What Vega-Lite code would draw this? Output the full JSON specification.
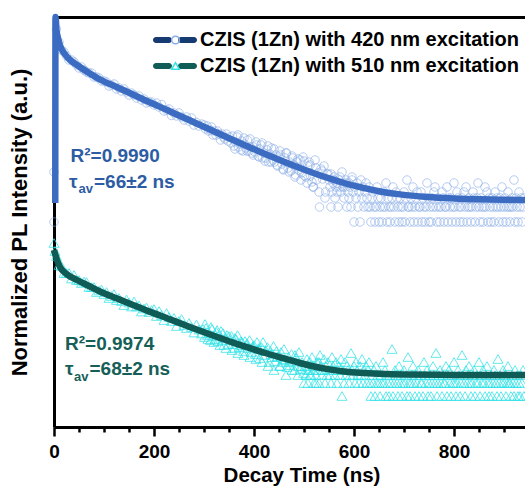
{
"$schema":"https://vega.github.io/schema/vega-lite/v6.json",
"width":471,"height":410,
"autosize":"none",
"padding":{"left":54,"top":17,"right":0,"bottom":66},
"background":"white",
"config":{
"view":{"stroke":null},
"font":"Liberation Sans",
"axis":{"domainColor":"black","domainWidth":3,"tickColor":"black","labelColor":"black","titleColor":"black","labelFont":"Liberation Sans","titleFont":"Liberation Sans","labelFontWeight":"bold","titleFontWeight":"bold","grid":false},
"axisY":{"labels":false,"ticks":false,"titleFontSize":22,"titlePadding":23}
},
"datasets":{
"fit":[
{"t":2.5,"v":224,"s":"CZIS (1Zn) with 420 nm excitation"},{"t":3,"v":410,"s":"CZIS (1Zn) with 420 nm excitation"},{"t":5,"v":397,"s":"CZIS (1Zn) with 420 nm excitation"},{"t":8,"v":389,"s":"CZIS (1Zn) with 420 nm excitation"},{"t":10,"v":385,"s":"CZIS (1Zn) with 420 nm excitation"},{"t":15,"v":378,"s":"CZIS (1Zn) with 420 nm excitation"},{"t":20,"v":374,"s":"CZIS (1Zn) with 420 nm excitation"},{"t":30,"v":368,"s":"CZIS (1Zn) with 420 nm excitation"},{"t":46,"v":362,"s":"CZIS (1Zn) with 420 nm excitation"},{"t":70,"v":354,"s":"CZIS (1Zn) with 420 nm excitation"},{"t":92,"v":347.5,"s":"CZIS (1Zn) with 420 nm excitation"},{"t":125,"v":340,"s":"CZIS (1Zn) with 420 nm excitation"},{"t":158,"v":332.5,"s":"CZIS (1Zn) with 420 nm excitation"},{"t":190,"v":325,"s":"CZIS (1Zn) with 420 nm excitation"},{"t":226,"v":317,"s":"CZIS (1Zn) with 420 nm excitation"},{"t":260,"v":309.2,"s":"CZIS (1Zn) with 420 nm excitation"},{"t":292,"v":302,"s":"CZIS (1Zn) with 420 nm excitation"},{"t":325,"v":294.5,"s":"CZIS (1Zn) with 420 nm excitation"},{"t":358,"v":287,"s":"CZIS (1Zn) with 420 nm excitation"},{"t":392,"v":279.5,"s":"CZIS (1Zn) with 420 nm excitation"},{"t":426,"v":272.3,"s":"CZIS (1Zn) with 420 nm excitation"},{"t":460,"v":265.3,"s":"CZIS (1Zn) with 420 nm excitation"},{"t":492,"v":259,"s":"CZIS (1Zn) with 420 nm excitation"},{"t":520,"v":253.8,"s":"CZIS (1Zn) with 420 nm excitation"},{"t":552,"v":248.3,"s":"CZIS (1Zn) with 420 nm excitation"},{"t":580,"v":244,"s":"CZIS (1Zn) with 420 nm excitation"},{"t":612,"v":239.8,"s":"CZIS (1Zn) with 420 nm excitation"},{"t":650,"v":235.8,"s":"CZIS (1Zn) with 420 nm excitation"},{"t":692,"v":232.6,"s":"CZIS (1Zn) with 420 nm excitation"},{"t":746,"v":230,"s":"CZIS (1Zn) with 420 nm excitation"},{"t":800,"v":228.6,"s":"CZIS (1Zn) with 420 nm excitation"},{"t":852,"v":227.8,"s":"CZIS (1Zn) with 420 nm excitation"},{"t":900,"v":227.3,"s":"CZIS (1Zn) with 420 nm excitation"},{"t":942,"v":227,"s":"CZIS (1Zn) with 420 nm excitation"},
{"t":0,"v":177,"s":"CZIS (1Zn) with 510 nm excitation"},{"t":6,"v":167,"s":"CZIS (1Zn) with 510 nm excitation"},{"t":12,"v":160,"s":"CZIS (1Zn) with 510 nm excitation"},{"t":25,"v":153,"s":"CZIS (1Zn) with 510 nm excitation"},{"t":46,"v":147,"s":"CZIS (1Zn) with 510 nm excitation"},{"t":70,"v":141,"s":"CZIS (1Zn) with 510 nm excitation"},{"t":92,"v":135.5,"s":"CZIS (1Zn) with 510 nm excitation"},{"t":125,"v":128.7,"s":"CZIS (1Zn) with 510 nm excitation"},{"t":158,"v":122,"s":"CZIS (1Zn) with 510 nm excitation"},{"t":190,"v":115.6,"s":"CZIS (1Zn) with 510 nm excitation"},{"t":226,"v":108.8,"s":"CZIS (1Zn) with 510 nm excitation"},{"t":260,"v":102.3,"s":"CZIS (1Zn) with 510 nm excitation"},{"t":292,"v":96.2,"s":"CZIS (1Zn) with 510 nm excitation"},{"t":325,"v":90.2,"s":"CZIS (1Zn) with 510 nm excitation"},{"t":358,"v":84.4,"s":"CZIS (1Zn) with 510 nm excitation"},{"t":392,"v":78.8,"s":"CZIS (1Zn) with 510 nm excitation"},{"t":426,"v":73.5,"s":"CZIS (1Zn) with 510 nm excitation"},{"t":460,"v":68.6,"s":"CZIS (1Zn) with 510 nm excitation"},{"t":492,"v":64,"s":"CZIS (1Zn) with 510 nm excitation"},{"t":520,"v":60.5,"s":"CZIS (1Zn) with 510 nm excitation"},{"t":550,"v":57.6,"s":"CZIS (1Zn) with 510 nm excitation"},{"t":580,"v":55.6,"s":"CZIS (1Zn) with 510 nm excitation"},{"t":612,"v":54.2,"s":"CZIS (1Zn) with 510 nm excitation"},{"t":650,"v":53.2,"s":"CZIS (1Zn) with 510 nm excitation"},{"t":700,"v":52.5,"s":"CZIS (1Zn) with 510 nm excitation"},{"t":800,"v":52.1,"s":"CZIS (1Zn) with 510 nm excitation"},{"t":942,"v":52,"s":"CZIS (1Zn) with 510 nm excitation"}
],
"txt":[
{"t":33,"v":265.5,"label":"R²=0.9990","g":"b","k":"m"},
{"t":30,"v":239.5,"label":"τ","g":"b","k":"m"},
{"t":49,"v":234.5,"label":"av","g":"b","k":"s"},
{"t":80,"v":239.5,"label":"=66±2 ns","g":"b","k":"m"},
{"t":22,"v":77,"label":"R²=0.9974","g":"c","k":"m"},
{"t":22,"v":52,"label":"τ","g":"c","k":"m"},
{"t":40,"v":46,"label":"av","g":"c","k":"s"},
{"t":71,"v":52,"label":"=68±2 ns","g":"c","k":"m"}
],
"pb":[
{"t":0,"v":255,"p":"b"},{"t":0,"v":205,"p":"b"},
{"t":5,"v":398,"p":"b"},{"t":10,"v":385,"p":"b"},{"t":15,"v":377,"p":"b"},{"t":20,"v":375,"p":"b"},{"t":25,"v":371,"p":"b"},{"t":30,"v":367,"p":"b"},{"t":35,"v":367,"p":"b"},{"t":40,"v":365,"p":"b"},{"t":45,"v":362,"p":"b"},{"t":50,"v":359,"p":"b"},{"t":55,"v":360,"p":"b"},{"t":60,"v":357,"p":"b"},{"t":65,"v":355,"p":"b"},{"t":70,"v":354,"p":"b"},{"t":75,"v":354,"p":"b"},{"t":80,"v":350,"p":"b"},{"t":85,"v":350,"p":"b"},{"t":90,"v":349,"p":"b"},{"t":95,"v":346,"p":"b"},{"t":100,"v":346,"p":"b"},
{"t":105,"v":345,"p":"b"},{"t":110,"v":341,"p":"b"},{"t":115,"v":342,"p":"b"},{"t":120,"v":343,"p":"b"},{"t":125,"v":338,"p":"b"},{"t":130,"v":339,"p":"b"},{"t":135,"v":336,"p":"b"},{"t":140,"v":338,"p":"b"},{"t":145,"v":335,"p":"b"},{"t":150,"v":332,"p":"b"},{"t":155,"v":334,"p":"b"},{"t":160,"v":332,"p":"b"},{"t":165,"v":329,"p":"b"},{"t":170,"v":331,"p":"b"},{"t":175,"v":327,"p":"b"},{"t":180,"v":328,"p":"b"},{"t":185,"v":324,"p":"b"},{"t":190,"v":325,"p":"b"},{"t":195,"v":325,"p":"b"},{"t":200,"v":322,"p":"b"},
{"t":205,"v":324,"p":"b"},{"t":210,"v":320,"p":"b"},{"t":215,"v":322.5,"p":"b"},{"t":220,"v":316,"p":"b"},{"t":225,"v":317,"p":"b"},{"t":230,"v":318,"p":"b"},{"t":235,"v":311.5,"p":"b"},{"t":240,"v":314,"p":"b"},{"t":245,"v":311,"p":"b"},{"t":250,"v":314,"p":"b"},{"t":255,"v":310,"p":"b"},{"t":260,"v":307,"p":"b"},{"t":265,"v":310,"p":"b"},{"t":270,"v":306,"p":"b"},{"t":275,"v":309,"p":"b"},{"t":280,"v":302,"p":"b"},{"t":285,"v":304.5,"p":"b"},{"t":290,"v":301,"p":"b"},{"t":295,"v":303,"p":"b"},
{"t":300,"v":302,"p":"b"},{"t":303,"v":298,"p":"b"},{"t":306,"v":301,"p":"b"},{"t":309,"v":296,"p":"b"},{"t":312,"v":297,"p":"b"},{"t":315,"v":300,"p":"b"},{"t":318,"v":292,"p":"b"},{"t":321,"v":296,"p":"b"},{"t":324,"v":292,"p":"b"},{"t":327,"v":296,"p":"b"},{"t":330,"v":293,"p":"b"},{"t":333,"v":287,"p":"b"},{"t":336,"v":293,"p":"b"},{"t":339,"v":290,"p":"b"},{"t":342,"v":288,"p":"b"},{"t":345,"v":293,"p":"b"},{"t":348,"v":286,"p":"b"},
{"t":351,"v":290,"p":"b"},{"t":354,"v":284,"p":"b"},{"t":357,"v":291,"p":"b"},{"t":360,"v":281,"p":"b"},{"t":363,"v":285,"p":"b"},{"t":366,"v":290,"p":"b"},{"t":369,"v":280,"p":"b"},{"t":372,"v":283,"p":"b"},{"t":375,"v":286,"p":"b"},{"t":378,"v":276,"p":"b"},{"t":381,"v":283,"p":"b"},{"t":384,"v":279,"p":"b"},{"t":387,"v":287,"p":"b"},{"t":390,"v":276,"p":"b"},{"t":393,"v":280,"p":"b"},{"t":396,"v":274,"p":"b"},{"t":399,"v":280,"p":"b"},
{"t":402,"v":275,"p":"b"},{"t":405,"v":282,"p":"b"},{"t":408,"v":271,"p":"b"},{"t":411,"v":278,"p":"b"},{"t":414,"v":282,"p":"b"},{"t":417,"v":269,"p":"b"},{"t":420,"v":274,"p":"b"},{"t":423,"v":269,"p":"b"},{"t":426,"v":277,"p":"b"},{"t":429,"v":265,"p":"b"},{"t":432,"v":273,"p":"b"},{"t":435,"v":279,"p":"b"},{"t":438,"v":267,"p":"b"},{"t":441,"v":265,"p":"b"},{"t":444,"v":272,"p":"b"},{"t":447,"v":261,"p":"b"},{"t":450,"v":270,"p":"b"},
{"t":453,"v":272,"p":"b"},{"t":456,"v":263,"p":"b"},{"t":459,"v":257,"p":"b"},{"t":462,"v":269,"p":"b"},{"t":465,"v":274,"p":"b"},{"t":468,"v":259,"p":"b"},{"t":471,"v":265,"p":"b"},{"t":474,"v":256,"p":"b"},{"t":477,"v":269,"p":"b"},{"t":480,"v":262,"p":"b"},{"t":483,"v":252,"p":"b"},{"t":486,"v":265,"p":"b"},{"t":489,"v":257,"p":"b"},{"t":492,"v":267,"p":"b"},{"t":495,"v":254,"p":"b"},{"t":498,"v":270,"p":"b"},{"t":501,"v":251,"p":"b"},
{"t":504,"v":250,"p":"b"},{"t":507,"v":261,"p":"b"},{"t":510,"v":265,"p":"b"},{"t":513,"v":251,"p":"b"},{"t":516,"v":245,"p":"b"},{"t":519,"v":240,"p":"b"},{"t":522,"v":267,"p":"b"},{"t":525,"v":247,"p":"b"},{"t":528,"v":254,"p":"b"},{"t":531,"v":220,"p":"b"},{"t":534,"v":258,"p":"b"},{"t":537,"v":248,"p":"b"},{"t":540,"v":261,"p":"b"},{"t":543,"v":235,"p":"b"},{"t":546,"v":253,"p":"b"},
{"t":362,"v":278,"p":"b"},{"t":368,"v":292,"p":"b"},{"t":374,"v":277,"p":"b"},{"t":380,"v":289,"p":"b"},{"t":386,"v":276,"p":"b"},{"t":392,"v":288,"p":"b"},{"t":398,"v":272,"p":"b"},{"t":404,"v":285,"p":"b"},{"t":410,"v":270,"p":"b"},{"t":416,"v":284,"p":"b"},{"t":422,"v":266,"p":"b"},{"t":428,"v":281,"p":"b"},{"t":434,"v":265,"p":"b"},{"t":440,"v":278,"p":"b"},{"t":446,"v":262,"p":"b"},{"t":452,"v":276,"p":"b"},{"t":458,"v":258,"p":"b"},{"t":464,"v":274,"p":"b"},{"t":470,"v":255,"p":"b"},{"t":476,"v":271,"p":"b"},{"t":482,"v":250,"p":"b"},{"t":488,"v":268,"p":"b"},{"t":494,"v":247,"p":"b"},{"t":500,"v":266,"p":"b"},{"t":506,"v":244,"p":"b"},{"t":512,"v":262,"p":"b"},{"t":518,"v":240,"p":"b"},{"t":524,"v":259,"p":"b"},{"t":530,"v":235,"p":"b"},{"t":536,"v":256,"p":"b"},{"t":542,"v":229,"p":"b"},{"t":548,"v":253,"p":"b"},{"t":554,"v":220,"p":"b"},{"t":560,"v":247,"p":"b"},{"t":566,"v":235,"p":"b"},{"t":572,"v":250,"p":"b"},{"t":578,"v":240,"p":"b"},{"t":584,"v":244,"p":"b"},{"t":590,"v":229,"p":"b"},{"t":596,"v":247,"p":"b"},
{"t":550,"v":247,"p":"b"},{"t":552,"v":240,"p":"b"},{"t":554,"v":253,"p":"b"},{"t":556,"v":235,"p":"b"},{"t":558,"v":244,"p":"b"},{"t":560,"v":250,"p":"b"},{"t":562,"v":229,"p":"b"},{"t":564,"v":240,"p":"b"},{"t":566,"v":244,"p":"b"},{"t":568,"v":220,"p":"b"},{"t":570,"v":247,"p":"b"},{"t":572,"v":240,"p":"b"},{"t":574,"v":235,"p":"b"},{"t":576,"v":255,"p":"b"},{"t":578,"v":244,"p":"b"},{"t":580,"v":229,"p":"b"},{"t":582,"v":240,"p":"b"},{"t":584,"v":247,"p":"b"},{"t":586,"v":220,"p":"b"},{"t":588,"v":235,"p":"b"},{"t":590,"v":244,"p":"b"},{"t":592,"v":240,"p":"b"},{"t":594,"v":220,"p":"b"},{"t":596,"v":250,"p":"b"},{"t":598,"v":235,"p":"b"},{"t":600,"v":205,"p":"b"},{"t":602,"v":240,"p":"b"},{"t":604,"v":229,"p":"b"},{"t":606,"v":244,"p":"b"},{"t":608,"v":220,"p":"b"},{"t":610,"v":235,"p":"b"},{"t":612,"v":205,"p":"b"},{"t":614,"v":247,"p":"b"},{"t":616,"v":229,"p":"b"},{"t":618,"v":240,"p":"b"},{"t":620,"v":220,"p":"b"},{"t":622,"v":235,"p":"b"},{"t":624,"v":244,"p":"b"},{"t":626,"v":229,"p":"b"},{"t":628,"v":220,"p":"b"},{"t":630,"v":240,"p":"b"},
{"t":632,"v":220,"p":"b"},{"t":634,"v":205,"p":"b"},{"t":636,"v":229,"p":"b"},{"t":638,"v":235,"p":"b"},{"t":640,"v":220,"p":"b"},{"t":642,"v":205,"p":"b"},{"t":644,"v":220,"p":"b"},{"t":646,"v":240,"p":"b"},{"t":648,"v":229,"p":"b"},{"t":650,"v":205,"p":"b"},
{"t":652,"v":220,"p":"b"},{"t":654,"v":229,"p":"b"},{"t":656,"v":205,"p":"b"},{"t":658,"v":220,"p":"b"},{"t":660,"v":235,"p":"b"},{"t":662,"v":220,"p":"b"},{"t":664,"v":244,"p":"b"},{"t":666,"v":205,"p":"b"},{"t":668,"v":229,"p":"b"},{"t":670,"v":220,"p":"b"},
{"t":672,"v":205,"p":"b"},{"t":674,"v":220,"p":"b"},{"t":676,"v":229,"p":"b"},{"t":678,"v":240,"p":"b"},{"t":680,"v":220,"p":"b"},{"t":682,"v":205,"p":"b"},{"t":684,"v":235,"p":"b"},{"t":686,"v":229,"p":"b"},{"t":688,"v":220,"p":"b"},{"t":690,"v":205,"p":"b"},
{"t":692,"v":229,"p":"b"},{"t":694,"v":220,"p":"b"},{"t":696,"v":205,"p":"b"},{"t":698,"v":220,"p":"b"},{"t":700,"v":235,"p":"b"},{"t":702,"v":205,"p":"b"},{"t":704,"v":229,"p":"b"},{"t":706,"v":247,"p":"b"},{"t":708,"v":220,"p":"b"},{"t":710,"v":220,"p":"b"},
{"t":712,"v":205,"p":"b"},{"t":714,"v":229,"p":"b"},{"t":716,"v":220,"p":"b"},{"t":718,"v":240,"p":"b"},{"t":720,"v":205,"p":"b"},{"t":722,"v":220,"p":"b"},{"t":724,"v":229,"p":"b"},{"t":726,"v":235,"p":"b"},{"t":728,"v":205,"p":"b"},{"t":730,"v":220,"p":"b"},
{"t":732,"v":220,"p":"b"},{"t":734,"v":235,"p":"b"},{"t":736,"v":205,"p":"b"},{"t":738,"v":229,"p":"b"},{"t":740,"v":220,"p":"b"},{"t":742,"v":205,"p":"b"},{"t":744,"v":220,"p":"b"},{"t":746,"v":244,"p":"b"},{"t":748,"v":229,"p":"b"},{"t":750,"v":205,"p":"b"},
{"t":752,"v":220,"p":"b"},{"t":754,"v":205,"p":"b"},{"t":756,"v":229,"p":"b"},{"t":758,"v":220,"p":"b"},{"t":760,"v":235,"p":"b"},{"t":762,"v":240,"p":"b"},{"t":764,"v":220,"p":"b"},{"t":766,"v":205,"p":"b"},{"t":768,"v":229,"p":"b"},{"t":770,"v":220,"p":"b"},
{"t":772,"v":205,"p":"b"},{"t":774,"v":220,"p":"b"},{"t":776,"v":235,"p":"b"},{"t":778,"v":229,"p":"b"},{"t":780,"v":205,"p":"b"},{"t":782,"v":220,"p":"b"},{"t":784,"v":220,"p":"b"},{"t":786,"v":240,"p":"b"},{"t":788,"v":205,"p":"b"},{"t":790,"v":229,"p":"b"},
{"t":792,"v":220,"p":"b"},{"t":794,"v":229,"p":"b"},{"t":796,"v":205,"p":"b"},{"t":798,"v":220,"p":"b"},{"t":800,"v":244,"p":"b"},{"t":802,"v":220,"p":"b"},{"t":804,"v":205,"p":"b"},{"t":806,"v":235,"p":"b"},{"t":808,"v":229,"p":"b"},{"t":810,"v":220,"p":"b"},
{"t":812,"v":205,"p":"b"},{"t":814,"v":220,"p":"b"},{"t":816,"v":229,"p":"b"},{"t":818,"v":205,"p":"b"},{"t":820,"v":235,"p":"b"},{"t":822,"v":220,"p":"b"},{"t":824,"v":240,"p":"b"},{"t":826,"v":205,"p":"b"},{"t":828,"v":220,"p":"b"},{"t":830,"v":229,"p":"b"},
{"t":832,"v":220,"p":"b"},{"t":834,"v":205,"p":"b"},{"t":836,"v":220,"p":"b"},{"t":838,"v":235,"p":"b"},{"t":840,"v":229,"p":"b"},{"t":842,"v":205,"p":"b"},{"t":844,"v":220,"p":"b"},{"t":846,"v":229,"p":"b"},{"t":848,"v":244,"p":"b"},{"t":850,"v":220,"p":"b"},
{"t":852,"v":205,"p":"b"},{"t":854,"v":229,"p":"b"},{"t":856,"v":220,"p":"b"},{"t":858,"v":205,"p":"b"},{"t":860,"v":220,"p":"b"},{"t":862,"v":240,"p":"b"},{"t":864,"v":220,"p":"b"},{"t":866,"v":235,"p":"b"},{"t":868,"v":205,"p":"b"},{"t":870,"v":229,"p":"b"},
{"t":872,"v":220,"p":"b"},{"t":874,"v":205,"p":"b"},{"t":876,"v":229,"p":"b"},{"t":878,"v":220,"p":"b"},{"t":880,"v":205,"p":"b"},{"t":882,"v":235,"p":"b"},{"t":884,"v":220,"p":"b"},{"t":886,"v":229,"p":"b"},{"t":888,"v":220,"p":"b"},{"t":890,"v":205,"p":"b"},
{"t":892,"v":229,"p":"b"},{"t":894,"v":220,"p":"b"},{"t":896,"v":240,"p":"b"},{"t":898,"v":205,"p":"b"},{"t":900,"v":220,"p":"b"},{"t":902,"v":229,"p":"b"},{"t":904,"v":205,"p":"b"},{"t":906,"v":220,"p":"b"},{"t":908,"v":235,"p":"b"},{"t":910,"v":220,"p":"b"},
{"t":912,"v":205,"p":"b"},{"t":914,"v":220,"p":"b"},{"t":916,"v":229,"p":"b"},{"t":918,"v":220,"p":"b"},{"t":920,"v":247,"p":"b"},{"t":922,"v":205,"p":"b"},{"t":924,"v":229,"p":"b"},{"t":926,"v":220,"p":"b"},{"t":928,"v":205,"p":"b"},{"t":930,"v":235,"p":"b"},
{"t":932,"v":220,"p":"b"},{"t":934,"v":229,"p":"b"},{"t":936,"v":205,"p":"b"},{"t":938,"v":220,"p":"b"},{"t":940,"v":229,"p":"b"}
],
"pc":[
{"t":0,"v":184,"p":"c"},{"t":2,"v":176,"p":"c"},
{"t":5,"v":171,"p":"c"},{"t":10,"v":162,"p":"c"},{"t":15,"v":161,"p":"c"},{"t":20,"v":154,"p":"c"},{"t":25,"v":154,"p":"c"},{"t":30,"v":154,"p":"c"},{"t":35,"v":148.5,"p":"c"},{"t":40,"v":152,"p":"c"},{"t":45,"v":147,"p":"c"},{"t":50,"v":147,"p":"c"},{"t":55,"v":144,"p":"c"},{"t":60,"v":145.5,"p":"c"},{"t":65,"v":145,"p":"c"},{"t":70,"v":140,"p":"c"},{"t":75,"v":140,"p":"c"},{"t":80,"v":140,"p":"c"},{"t":85,"v":135,"p":"c"},{"t":90,"v":136.5,"p":"c"},{"t":95,"v":137.5,"p":"c"},{"t":100,"v":133,"p":"c"},
{"t":105,"v":135,"p":"c"},{"t":110,"v":129,"p":"c"},{"t":115,"v":131,"p":"c"},{"t":120,"v":133,"p":"c"},{"t":125,"v":127,"p":"c"},{"t":130,"v":129,"p":"c"},{"t":135,"v":126,"p":"c"},{"t":140,"v":122,"p":"c"},{"t":145,"v":127.5,"p":"c"},{"t":150,"v":124.5,"p":"c"},{"t":155,"v":120.5,"p":"c"},{"t":160,"v":125.5,"p":"c"},{"t":165,"v":120.5,"p":"c"},{"t":170,"v":121.5,"p":"c"},{"t":175,"v":115.5,"p":"c"},{"t":180,"v":118.5,"p":"c"},{"t":185,"v":119.5,"p":"c"},{"t":190,"v":115,"p":"c"},{"t":195,"v":117,"p":"c"},{"t":200,"v":118,"p":"c"},
{"t":205,"v":111,"p":"c"},{"t":210,"v":116,"p":"c"},{"t":215,"v":112,"p":"c"},{"t":220,"v":107,"p":"c"},{"t":225,"v":114,"p":"c"},{"t":230,"v":110,"p":"c"},{"t":235,"v":106,"p":"c"},{"t":240,"v":109,"p":"c"},{"t":245,"v":101,"p":"c"},{"t":250,"v":106,"p":"c"},{"t":255,"v":108,"p":"c"},{"t":260,"v":102,"p":"c"},{"t":265,"v":99,"p":"c"},{"t":270,"v":104,"p":"c"},{"t":275,"v":100,"p":"c"},{"t":280,"v":94.5,"p":"c"},{"t":285,"v":102.5,"p":"c"},{"t":290,"v":97.5,"p":"c"},{"t":295,"v":93.5,"p":"c"},
{"t":298,"v":98,"p":"c"},{"t":301,"v":90,"p":"c"},{"t":304,"v":99,"p":"c"},{"t":307,"v":92,"p":"c"},{"t":310,"v":94,"p":"c"},{"t":313,"v":87,"p":"c"},{"t":316,"v":98,"p":"c"},{"t":319,"v":91,"p":"c"},{"t":322,"v":88,"p":"c"},{"t":325,"v":95,"p":"c"},{"t":328,"v":86,"p":"c"},{"t":331,"v":92,"p":"c"},{"t":334,"v":96,"p":"c"},{"t":337,"v":87,"p":"c"},{"t":340,"v":82,"p":"c"},{"t":343,"v":89,"p":"c"},{"t":346,"v":92,"p":"c"},{"t":349,"v":83,"p":"c"},{"t":352,"v":87,"p":"c"},{"t":355,"v":91,"p":"c"},{"t":358,"v":83,"p":"c"},{"t":361,"v":79,"p":"c"},{"t":364,"v":88,"p":"c"},{"t":367,"v":92,"p":"c"},{"t":370,"v":80,"p":"c"},{"t":373,"v":82,"p":"c"},{"t":376,"v":85,"p":"c"},{"t":379,"v":76,"p":"c"},{"t":382,"v":86,"p":"c"},{"t":385,"v":82,"p":"c"},{"t":388,"v":79,"p":"c"},{"t":391,"v":87,"p":"c"},{"t":394,"v":75,"p":"c"},{"t":397,"v":80,"p":"c"},{"t":400,"v":82,"p":"c"},
{"t":403,"v":73,"p":"c"},{"t":406,"v":85,"p":"c"},{"t":409,"v":79,"p":"c"},{"t":412,"v":69,"p":"c"},{"t":415,"v":80,"p":"c"},{"t":418,"v":85,"p":"c"},{"t":421,"v":72,"p":"c"},{"t":424,"v":76,"p":"c"},{"t":427,"v":80,"p":"c"},{"t":430,"v":65,"p":"c"},{"t":433,"v":76,"p":"c"},{"t":436,"v":70,"p":"c"},{"t":439,"v":81,"p":"c"},{"t":442,"v":66,"p":"c"},{"t":445,"v":76,"p":"c"},{"t":448,"v":71,"p":"c"},{"t":451,"v":61,"p":"c"},{"t":454,"v":75,"p":"c"},{"t":457,"v":65,"p":"c"},{"t":460,"v":78,"p":"c"},{"t":463,"v":67,"p":"c"},{"t":466,"v":60,"p":"c"},{"t":469,"v":70,"p":"c"},{"t":472,"v":62,"p":"c"},{"t":475,"v":73,"p":"c"},{"t":478,"v":66,"p":"c"},{"t":481,"v":57,"p":"c"},{"t":484,"v":69,"p":"c"},{"t":487,"v":61,"p":"c"},{"t":490,"v":75,"p":"c"},{"t":493,"v":58,"p":"c"},{"t":496,"v":65,"p":"c"},{"t":499,"v":54,"p":"c"},
{"t":302,"v":103,"p":"c"},{"t":308,"v":88,"p":"c"},{"t":314,"v":100,"p":"c"},{"t":320,"v":85,"p":"c"},{"t":326,"v":97,"p":"c"},{"t":332,"v":82,"p":"c"},{"t":338,"v":94,"p":"c"},{"t":344,"v":79,"p":"c"},{"t":350,"v":91,"p":"c"},{"t":356,"v":77,"p":"c"},{"t":362,"v":89,"p":"c"},{"t":368,"v":74,"p":"c"},{"t":374,"v":86,"p":"c"},{"t":380,"v":72,"p":"c"},{"t":386,"v":84,"p":"c"},{"t":392,"v":70,"p":"c"},{"t":398,"v":81,"p":"c"},{"t":404,"v":68,"p":"c"},{"t":410,"v":78,"p":"c"},{"t":416,"v":65,"p":"c"},{"t":422,"v":76,"p":"c"},{"t":428,"v":61,"p":"c"},{"t":434,"v":73,"p":"c"},{"t":440,"v":57,"p":"c"},{"t":446,"v":70,"p":"c"},{"t":452,"v":61,"p":"c"},{"t":458,"v":68,"p":"c"},{"t":464,"v":52,"p":"c"},{"t":470,"v":65,"p":"c"},{"t":476,"v":57,"p":"c"},{"t":482,"v":72,"p":"c"},{"t":488,"v":52,"p":"c"},{"t":494,"v":61,"p":"c"},{"t":500,"v":44,"p":"c"},{"t":506,"v":57,"p":"c"},{"t":512,"v":52,"p":"c"},{"t":518,"v":61,"p":"c"},{"t":524,"v":44,"p":"c"},{"t":530,"v":65,"p":"c"},{"t":536,"v":57,"p":"c"},
{"t":502,"v":61,"p":"c"},{"t":504,"v":52,"p":"c"},{"t":506,"v":68,"p":"c"},{"t":508,"v":44,"p":"c"},{"t":510,"v":57,"p":"c"},{"t":512,"v":65,"p":"c"},{"t":514,"v":52,"p":"c"},{"t":516,"v":70,"p":"c"},{"t":518,"v":57,"p":"c"},{"t":520,"v":44,"p":"c"},
{"t":522,"v":61,"p":"c"},{"t":524,"v":52,"p":"c"},{"t":526,"v":65,"p":"c"},{"t":528,"v":57,"p":"c"},{"t":530,"v":44,"p":"c"},{"t":532,"v":72,"p":"c"},{"t":534,"v":61,"p":"c"},{"t":536,"v":52,"p":"c"},{"t":538,"v":57,"p":"c"},{"t":540,"v":68,"p":"c"},
{"t":542,"v":44,"p":"c"},{"t":544,"v":61,"p":"c"},{"t":546,"v":52,"p":"c"},{"t":548,"v":65,"p":"c"},{"t":550,"v":57,"p":"c"},{"t":552,"v":52,"p":"c"},{"t":554,"v":44,"p":"c"},{"t":556,"v":70,"p":"c"},{"t":558,"v":61,"p":"c"},{"t":560,"v":57,"p":"c"},
{"t":562,"v":52,"p":"c"},{"t":564,"v":65,"p":"c"},{"t":566,"v":44,"p":"c"},{"t":568,"v":57,"p":"c"},{"t":570,"v":61,"p":"c"},{"t":572,"v":52,"p":"c"},{"t":574,"v":68,"p":"c"},{"t":576,"v":31,"p":"c"},{"t":578,"v":57,"p":"c"},{"t":580,"v":44,"p":"c"},
{"t":582,"v":65,"p":"c"},{"t":584,"v":52,"p":"c"},{"t":586,"v":61,"p":"c"},{"t":588,"v":57,"p":"c"},{"t":590,"v":44,"p":"c"},{"t":592,"v":52,"p":"c"},{"t":594,"v":74,"p":"c"},{"t":596,"v":57,"p":"c"},{"t":598,"v":52,"p":"c"},{"t":600,"v":61,"p":"c"},
{"t":602,"v":44,"p":"c"},{"t":604,"v":65,"p":"c"},{"t":606,"v":57,"p":"c"},{"t":608,"v":52,"p":"c"},{"t":610,"v":44,"p":"c"},{"t":612,"v":61,"p":"c"},{"t":614,"v":52,"p":"c"},{"t":616,"v":68,"p":"c"},{"t":618,"v":44,"p":"c"},{"t":620,"v":57,"p":"c"},
{"t":622,"v":52,"p":"c"},{"t":624,"v":61,"p":"c"},{"t":626,"v":44,"p":"c"},{"t":628,"v":57,"p":"c"},{"t":630,"v":65,"p":"c"},
{"t":632,"v":44,"p":"c"},{"t":634,"v":31,"p":"c"},{"t":636,"v":52,"p":"c"},{"t":638,"v":44,"p":"c"},{"t":640,"v":57,"p":"c"},{"t":642,"v":31,"p":"c"},{"t":644,"v":61,"p":"c"},{"t":646,"v":44,"p":"c"},{"t":648,"v":52,"p":"c"},{"t":650,"v":44,"p":"c"},
{"t":652,"v":31,"p":"c"},{"t":654,"v":52,"p":"c"},{"t":656,"v":44,"p":"c"},{"t":658,"v":65,"p":"c"},{"t":660,"v":44,"p":"c"},{"t":662,"v":57,"p":"c"},{"t":664,"v":31,"p":"c"},{"t":666,"v":52,"p":"c"},{"t":668,"v":44,"p":"c"},{"t":670,"v":31,"p":"c"},
{"t":672,"v":52,"p":"c"},{"t":674,"v":44,"p":"c"},{"t":676,"v":78,"p":"c"},{"t":678,"v":31,"p":"c"},{"t":680,"v":44,"p":"c"},{"t":682,"v":57,"p":"c"},{"t":684,"v":52,"p":"c"},{"t":686,"v":44,"p":"c"},{"t":688,"v":31,"p":"c"},{"t":690,"v":61,"p":"c"},
{"t":692,"v":44,"p":"c"},{"t":694,"v":52,"p":"c"},{"t":696,"v":31,"p":"c"},{"t":698,"v":44,"p":"c"},{"t":700,"v":57,"p":"c"},{"t":702,"v":44,"p":"c"},{"t":704,"v":52,"p":"c"},{"t":706,"v":31,"p":"c"},{"t":708,"v":70,"p":"c"},{"t":710,"v":44,"p":"c"},
{"t":712,"v":31,"p":"c"},{"t":714,"v":44,"p":"c"},{"t":716,"v":52,"p":"c"},{"t":718,"v":61,"p":"c"},{"t":720,"v":44,"p":"c"},{"t":722,"v":31,"p":"c"},{"t":724,"v":52,"p":"c"},{"t":726,"v":44,"p":"c"},{"t":728,"v":57,"p":"c"},{"t":730,"v":31,"p":"c"},
{"t":732,"v":52,"p":"c"},{"t":734,"v":44,"p":"c"},{"t":736,"v":44,"p":"c"},{"t":738,"v":31,"p":"c"},{"t":740,"v":65,"p":"c"},{"t":742,"v":52,"p":"c"},{"t":744,"v":44,"p":"c"},{"t":746,"v":57,"p":"c"},{"t":748,"v":31,"p":"c"},{"t":750,"v":44,"p":"c"},
{"t":752,"v":52,"p":"c"},{"t":754,"v":31,"p":"c"},{"t":756,"v":44,"p":"c"},{"t":758,"v":61,"p":"c"},{"t":760,"v":52,"p":"c"},{"t":762,"v":44,"p":"c"},{"t":764,"v":74,"p":"c"},{"t":766,"v":31,"p":"c"},{"t":768,"v":44,"p":"c"},{"t":770,"v":52,"p":"c"},
{"t":772,"v":57,"p":"c"},{"t":774,"v":44,"p":"c"},{"t":776,"v":31,"p":"c"},{"t":778,"v":52,"p":"c"},{"t":780,"v":44,"p":"c"},{"t":782,"v":44,"p":"c"},{"t":784,"v":61,"p":"c"},{"t":786,"v":31,"p":"c"},{"t":788,"v":52,"p":"c"},{"t":790,"v":57,"p":"c"},
{"t":792,"v":44,"p":"c"},{"t":794,"v":31,"p":"c"},{"t":796,"v":52,"p":"c"},{"t":798,"v":44,"p":"c"},{"t":800,"v":65,"p":"c"},{"t":802,"v":44,"p":"c"},{"t":804,"v":31,"p":"c"},{"t":806,"v":44,"p":"c"},{"t":808,"v":57,"p":"c"},{"t":810,"v":52,"p":"c"},
{"t":812,"v":31,"p":"c"},{"t":814,"v":44,"p":"c"},{"t":816,"v":72,"p":"c"},{"t":818,"v":52,"p":"c"},{"t":820,"v":44,"p":"c"},{"t":822,"v":31,"p":"c"},{"t":824,"v":57,"p":"c"},{"t":826,"v":44,"p":"c"},{"t":828,"v":52,"p":"c"},{"t":830,"v":61,"p":"c"},
{"t":832,"v":44,"p":"c"},{"t":834,"v":31,"p":"c"},{"t":836,"v":44,"p":"c"},{"t":838,"v":52,"p":"c"},{"t":840,"v":57,"p":"c"},{"t":842,"v":31,"p":"c"},{"t":844,"v":44,"p":"c"},{"t":846,"v":52,"p":"c"},{"t":848,"v":44,"p":"c"},{"t":850,"v":65,"p":"c"},
{"t":852,"v":31,"p":"c"},{"t":854,"v":52,"p":"c"},{"t":856,"v":44,"p":"c"},{"t":858,"v":57,"p":"c"},{"t":860,"v":44,"p":"c"},{"t":862,"v":31,"p":"c"},{"t":864,"v":52,"p":"c"},{"t":866,"v":61,"p":"c"},{"t":868,"v":44,"p":"c"},{"t":870,"v":31,"p":"c"},
{"t":872,"v":44,"p":"c"},{"t":874,"v":52,"p":"c"},{"t":876,"v":31,"p":"c"},{"t":878,"v":44,"p":"c"},{"t":880,"v":57,"p":"c"},{"t":882,"v":52,"p":"c"},{"t":884,"v":44,"p":"c"},{"t":886,"v":31,"p":"c"},{"t":888,"v":68,"p":"c"},{"t":890,"v":44,"p":"c"},
{"t":892,"v":52,"p":"c"},{"t":894,"v":31,"p":"c"},{"t":896,"v":44,"p":"c"},{"t":898,"v":57,"p":"c"},{"t":900,"v":44,"p":"c"},{"t":902,"v":52,"p":"c"},{"t":904,"v":31,"p":"c"},{"t":906,"v":44,"p":"c"},{"t":908,"v":61,"p":"c"},{"t":910,"v":44,"p":"c"},
{"t":912,"v":44,"p":"c"},{"t":914,"v":31,"p":"c"},{"t":916,"v":52,"p":"c"},{"t":918,"v":44,"p":"c"},{"t":920,"v":31,"p":"c"},{"t":922,"v":57,"p":"c"},{"t":924,"v":44,"p":"c"},{"t":926,"v":52,"p":"c"},{"t":928,"v":31,"p":"c"},{"t":930,"v":44,"p":"c"},
{"t":932,"v":31,"p":"c"},{"t":934,"v":52,"p":"c"},{"t":936,"v":44,"p":"c"},{"t":938,"v":57,"p":"c"},{"t":940,"v":31,"p":"c"}
]
},
"resolve":{"axis":{"x":"independent"}},
"layer":[
{"data":{"name":"fit"},
 "mark":{"type":"point","filled":true,"size":1,"opacity":0},
 "encoding":{
  "x":{"field":"t","type":"quantitative","scale":{"domain":[0,942],"nice":false,"zero":false},
   "axis":{"values":[0,50,100,150,200,250,300,350,400,450,500,550,600,650,700,750,800,850,900],"format":"d","labelExpr":"datum.value % 200 === 0 ? datum.label : ''","labelOverlap":false,"labelFlush":false,"tickSize":{"condition":{"test":"datum.value % 200 === 0","value":9},"value":5},"tickWidth":2.5,"labelFontSize":19,"labelPadding":6,"title":"Decay Time (ns)","titleFontSize":20.5,"titlePadding":4,"titleX":247.5}},
  "y":{"field":"v","type":"quantitative","scale":{"domain":[0,410],"nice":false},
   "axis":{"title":"Normalized PL Intensity (a.u.)","labels":false,"ticks":false,"titleFontSize":22,"titlePadding":23}},
  "fill":{"field":"s","type":"nominal","scale":{"domain":["CZIS (1Zn) with 420 nm excitation","CZIS (1Zn) with 510 nm excitation"],"range":["#163b70","#0f5d56"]},
   "legend":{"orient":"none","legendX":111,"legendY":13,"title":null,"padding":0,"symbolType":"M-4.75,-0.75H-1.5A0.75,0.75 0 0 1 -1.5,0.75H-4.75A0.75,0.75 0 0 1 -4.75,-0.75Z M1.5,-0.75H4.75A0.75,0.75 0 0 1 4.75,0.75H1.5A0.75,0.75 0 0 1 1.5,-0.75Z","symbolSize":64,"symbolStrokeWidth":0,"symbolOpacity":1,"labelFontSize":20,"labelFont":"Liberation Sans","labelFontWeight":"bold","labelColor":"black","labelLimit":400,"labelOffset":15,"rowPadding":6}}
 }},
{"data":{"name":"pb"},
 "mark":{"type":"point","filled":false,"size":72,"strokeWidth":1,"opacity":0.6},
 "encoding":{
  "x":{"field":"t","type":"quantitative","axis":null},
  "y":{"field":"v","type":"quantitative"},
  "stroke":{"field":"p","type":"nominal","scale":{"domain":["b","c"],"range":["#86abe8","#2fe3e8"]},
   "legend":{"orient":"none","legendX":111.5,"legendY":13,"title":null,"padding":0,"labelFontSize":20,"labelOpacity":0,"labelLimit":400,"symbolSize":60,"symbolStrokeWidth":1.5,"symbolOpacity":1,"rowPadding":6}},
  "shape":{"field":"p","type":"nominal","scale":{"domain":["b","c"],"range":["circle","triangle-up"]},
   "legend":{"orient":"none","legendX":111.5,"legendY":13,"title":null,"padding":0,"labelFontSize":20,"labelOpacity":0,"labelLimit":400,"symbolSize":60,"symbolStrokeWidth":1.5,"symbolOpacity":1,"rowPadding":6}}
 }},
{"data":{"name":"pc"},
 "mark":{"type":"point","filled":false,"size":100,"strokeWidth":1,"opacity":0.75},
 "encoding":{
  "x":{"field":"t","type":"quantitative","axis":null},
  "y":{"field":"v","type":"quantitative"},
  "stroke":{"field":"p","type":"nominal"},
  "shape":{"field":"p","type":"nominal"}
 }},
{"data":{"name":"fit"},
 "mark":{"type":"line","strokeWidth":6.5,"interpolate":"monotone"},
 "encoding":{
  "x":{"field":"t","type":"quantitative","axis":{"orient":"top","labels":false,"ticks":false,"title":null,"domainWidth":3}},
  "y":{"field":"v","type":"quantitative"},
  "color":{"field":"s","type":"nominal","scale":{"domain":["CZIS (1Zn) with 420 nm excitation","CZIS (1Zn) with 510 nm excitation"],"range":["#3b6cc2","#0f5b55"]},"legend":null}
 }},
{"data":{"name":"txt"},
 "transform":[{"filter":"datum.k === 'm'"}],
 "mark":{"type":"text","align":"left","baseline":"alphabetic","font":"Liberation Sans","fontWeight":"bold","fontSize":19},
 "encoding":{
  "x":{"field":"t","type":"quantitative","axis":null},
  "y":{"field":"v","type":"quantitative"},
  "text":{"field":"label"},
  "color":{"condition":{"test":"datum.g === 'b'","value":"#2d5ca4"},"value":"#155f58"}
 }},
{"data":{"name":"txt"},
 "transform":[{"filter":"datum.k === 's'"}],
 "mark":{"type":"text","align":"left","baseline":"alphabetic","font":"Liberation Sans","fontWeight":"bold","fontSize":13},
 "encoding":{
  "x":{"field":"t","type":"quantitative","axis":null},
  "y":{"field":"v","type":"quantitative"},
  "text":{"field":"label"},
  "color":{"condition":{"test":"datum.g === 'b'","value":"#2d5ca4"},"value":"#155f58"}
 }}
]
}
